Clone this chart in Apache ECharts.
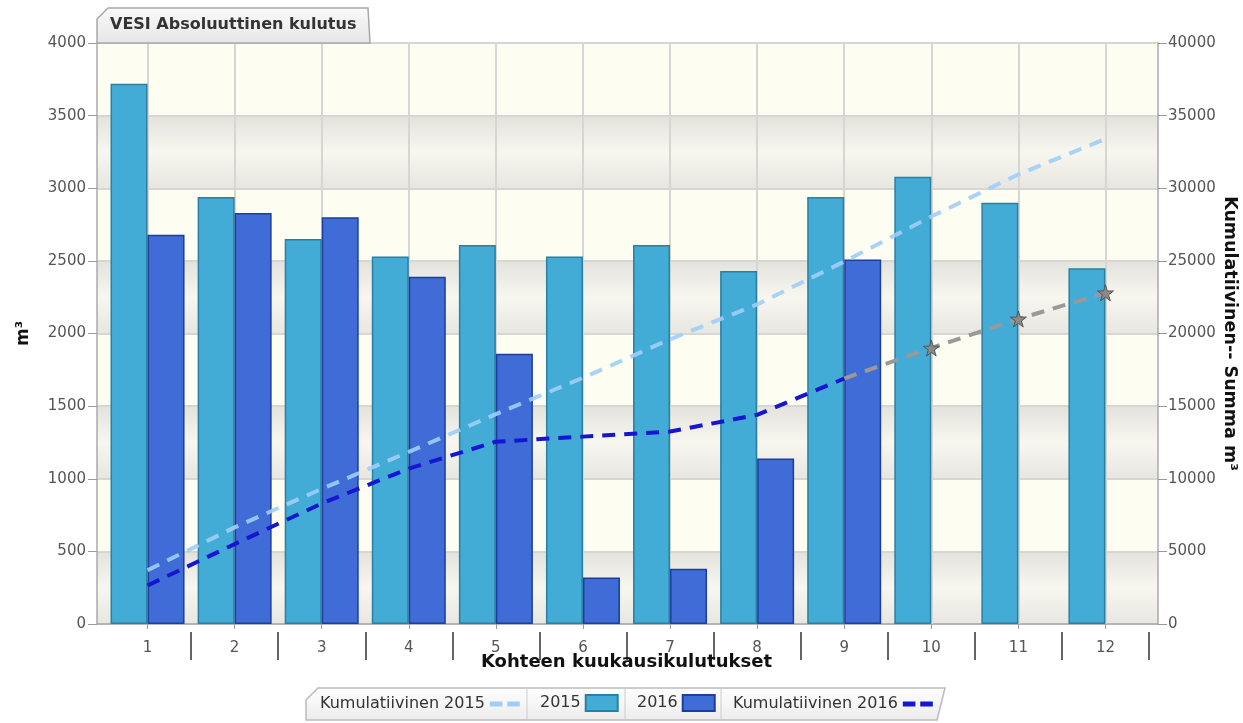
<!DOCTYPE html>
<html>
<head>
<meta charset="utf-8">
<script src="https://cdn.jsdelivr.net/npm/echarts@6/dist/echarts.min.js"></script>
<style>html,body{margin:0;padding:0;background:#fff;}#c{width:1243px;height:723px;}</style>
</head>
<body>
<div id="c"></div>
<script>
const categories = ['1','2','3','4','5','6','7','8','9','10','11','12'];
const v2015 = [3720, 2940, 2650, 2530, 2610, 2530, 2610, 2430, 2940, 3080, 2900, 2450];
const v2016 = [2680, 2830, 2800, 2390, 1860, 320, 380, 1140, 2510, null, null, null];
const cum2015 = [3700, 6650, 9300, 11850, 14450, 16950, 19600, 22000, 24950, 28050, 30950, 33400];
const cum2016 = [2650, 5500, 8300, 10700, 12550, 12900, 13250, 14400, 16900, null, null, null];
const forecast2016 = [null, null, null, null, null, null, null, null, 16900, 19000, 21000, 22800];
const leftTicks = {min: 0, max: 4000, interval: 500};
const rightTicks = {min: 0, max: 40000, interval: 5000};

const FONT = 'DejaVu Sans';
const chart = echarts.init(document.getElementById('c'), null, {renderer: 'canvas'});

const bandGrad = new echarts.graphic.LinearGradient(0, 0, 0, 1, [
  {offset: 0, color: '#e3e2dc'}, {offset: 0.5, color: '#f7f7f0'}, {offset: 1, color: '#e7e6e0'}
]);
const plain = v => String(v);
const dashIcon = 'path://M0,0 H13 V5 H0 Z M18,0 H31 V5 H18 Z';

const legendBase = {
  top: 696, align: 'right', itemGap: 0,
  textStyle: {fontFamily: FONT, fontSize: 16, color: '#333'}, padding: 0
};

chart.setOption({
  backgroundColor: '#fff',
  animation: false,
  textStyle: {fontFamily: FONT},
  grid: [
    {left: 104, right: 94, top: 43, bottom: 99, containLabel: false, outerBoundsMode: 'none'},
    {left: 97, right: 85, top: 43, bottom: 99, containLabel: false, outerBoundsMode: 'none'},
    {left: 104, right: 94, top: 43, bottom: 91, containLabel: false, outerBoundsMode: 'none'}
  ],
  legend: [
    Object.assign({}, legendBase, {left: 320, data: [{name: 'Kumulatiivinen 2015', icon: dashIcon}], itemWidth: 30, itemHeight: 5}),
    Object.assign({}, legendBase, {left: 540, top: 694, data: [{name: '2015', icon: 'rect'}], itemWidth: 32, itemHeight: 16}),
    Object.assign({}, legendBase, {left: 637, top: 694, data: [{name: '2016', icon: 'rect'}], itemWidth: 32, itemHeight: 16}),
    Object.assign({}, legendBase, {left: 733, data: [{name: 'Kumulatiivinen 2016', icon: dashIcon}], itemWidth: 30, itemHeight: 5})
  ],
  xAxis: [
    {
      gridIndex: 0, type: 'category', data: categories, position: 'bottom', z: 1,
      axisLine: {show: false},
      axisTick: {show: true, alignWithLabel: true, length: 5, lineStyle: {color: '#999'}},
      axisLabel: {fontFamily: FONT, fontSize: 15, color: '#555', margin: 17},
      splitLine: {show: true, alignWithLabel: true, lineStyle: {color: '#d6d6d2', width: 2}},
      name: 'Kohteen kuukausikulutukset', nameLocation: 'middle', nameGap: 29, nameMoveOverlap: false,
      nameTextStyle: {fontFamily: FONT, fontSize: 18, fontWeight: 'bold', color: '#111'}
    },
    {
      gridIndex: 2, type: 'category', data: categories, position: 'bottom',
      axisLine: {show: false},
      axisTick: {show: true, length: 28, interval: function (i) { return i > 0; }, lineStyle: {color: '#333', width: 1.5}},
      axisLabel: {show: false}, splitLine: {show: false}
    },
    {
      gridIndex: 1, type: 'value', min: 0, max: 1, position: 'bottom',
      axisLine: {show: true, lineStyle: {color: '#aaa', width: 1.5}},
      axisTick: {show: false}, axisLabel: {show: false}, splitLine: {show: false}
    }
  ],
  yAxis: [
    Object.assign({gridIndex: 0, type: 'value', show: false}, leftTicks),
    Object.assign({gridIndex: 0, type: 'value', show: false}, rightTicks),
    Object.assign({
      gridIndex: 1, type: 'value', position: 'left', z: 0,
      axisLine: {show: true, lineStyle: {color: '#aaa', width: 1.5}},
      axisTick: {show: true, length: 9, lineStyle: {color: '#999'}},
      axisLabel: {fontFamily: FONT, fontSize: 15, color: '#555', margin: 11, formatter: plain},
      splitLine: {show: true, lineStyle: {color: '#d6d6d2', width: 2}},
      splitArea: {show: true, areaStyle: {color: [bandGrad, '#fdfdf1']}},
      name: 'm³', nameLocation: 'middle', nameGap: 65, nameMoveOverlap: false,
      nameTextStyle: {fontFamily: FONT, fontSize: 17, fontWeight: 'bold', color: '#111'}
    }, leftTicks),
    Object.assign({
      gridIndex: 1, type: 'value', position: 'right',
      axisLine: {show: true, lineStyle: {color: '#aaa', width: 1.5}},
      axisTick: {show: true, length: 9, lineStyle: {color: '#999'}},
      axisLabel: {fontFamily: FONT, fontSize: 15, color: '#555', margin: 10, formatter: plain},
      splitLine: {show: false},
      name: 'Kumulatiivinen-- Summa m³', nameLocation: 'middle', nameGap: 63, nameRotate: -90, nameMoveOverlap: false,
      nameTextStyle: {fontFamily: FONT, fontSize: 17.5, fontWeight: 'bold', color: '#111'}
    }, rightTicks),
    {gridIndex: 2, type: 'value', show: false, min: 0, max: 1}
  ],
  series: [
    {
      name: 'Kumulatiivinen 2015', type: 'line', xAxisIndex: 0, yAxisIndex: 1, data: cum2015,
      symbol: 'none', z: 4,
      lineStyle: {color: '#9fcefa', width: 4, type: [13, 9], opacity: 0.9},
      itemStyle: {color: '#9fcefa'}
    },
    {
      name: '2015', type: 'bar', xAxisIndex: 0, yAxisIndex: 0, data: v2015,
      barWidth: 37, barGap: '0%', z: 2,
      itemStyle: {color: '#42acd6', borderColor: '#2a7fa3', borderWidth: 1.5}
    },
    {
      name: '2016', type: 'bar', xAxisIndex: 0, yAxisIndex: 0, data: v2016,
      barWidth: 37, barGap: '0%', z: 2,
      itemStyle: {color: '#3f6cd6', borderColor: '#1d3e9c', borderWidth: 1.5}
    },
    {
      name: 'Kumulatiivinen 2016', type: 'line', xAxisIndex: 0, yAxisIndex: 1, data: cum2016,
      symbol: 'none', z: 5,
      lineStyle: {color: '#1515d2', width: 4, type: [13, 9]},
      itemStyle: {color: '#1515d2'}
    },
    {
      name: 'Ennuste 2016', type: 'line', xAxisIndex: 0, yAxisIndex: 1, data: forecast2016,
      symbol: function (v, p) { return p.dataIndex > 8 ? 'path://M50,0 L61,35 L98,35 L68,57 L79,91 L50,70 L21,91 L32,57 L2,35 L39,35 Z' : 'none'; },
      symbolSize: 16, z: 4,
      lineStyle: {color: '#999', width: 4, type: [13, 9]},
      itemStyle: {color: '#8a8a8a', borderColor: '#555', borderWidth: 1}
    }
  ],
  graphic: [
    {
      type: 'polygon', z: 10,
      shape: {points: [[97, 43], [97, 19], [108, 8], [368, 8], [370, 43]]},
      style: {
        fill: new echarts.graphic.LinearGradient(0, 0, 0, 1, [{offset: 0, color: '#fafafa'}, {offset: 1, color: '#e6e6e6'}]),
        stroke: '#a8a8a8', lineWidth: 1.5
      }
    },
    {
      type: 'text', z: 11, left: 110, top: 17,
      style: {text: 'VESI Absoluuttinen kulutus', font: 'bold 16px "DejaVu Sans"', fill: '#333'}
    },
    {
      type: 'polygon', z: -1,
      shape: {points: [[306, 720], [306, 700], [318, 688], [945, 688], [937, 720]]},
      style: {
        fill: new echarts.graphic.LinearGradient(0, 0, 0, 1, [{offset: 0, color: '#ffffff'}, {offset: 1, color: '#ececec'}]),
        stroke: '#bbb', lineWidth: 1.5
      }
    },
    {type: 'line', z: 0, shape: {x1: 527, y1: 689, x2: 527, y2: 719}, style: {stroke: '#ccc', lineWidth: 1}},
    {type: 'line', z: 0, shape: {x1: 625, y1: 689, x2: 625, y2: 719}, style: {stroke: '#ccc', lineWidth: 1}},
    {type: 'line', z: 0, shape: {x1: 721, y1: 689, x2: 721, y2: 719}, style: {stroke: '#ccc', lineWidth: 1}}
  ]
});
</script>
</body>
</html>
